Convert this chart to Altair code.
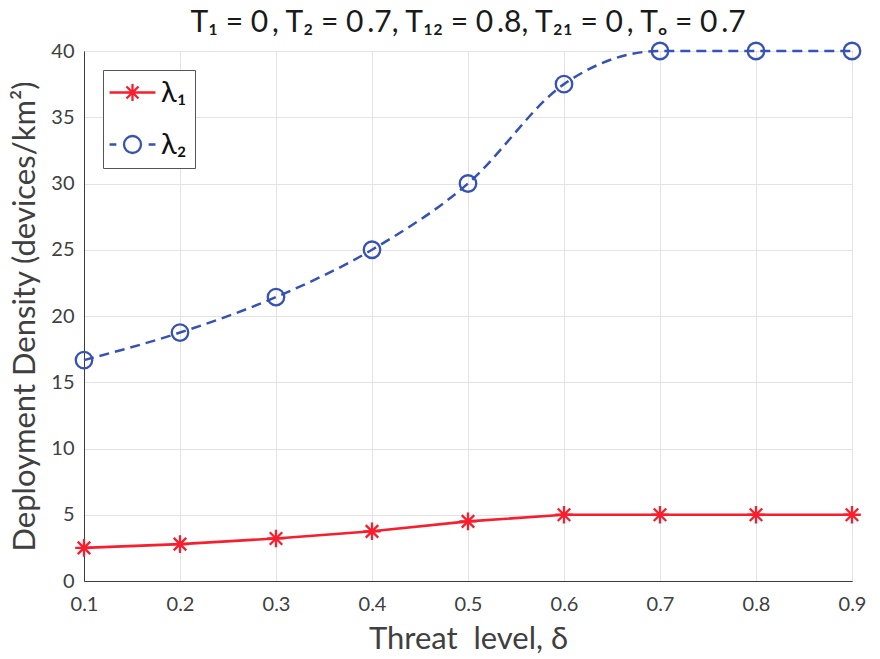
import altair as alt
import pandas as pd

# Threat level on the x axis
threat = [0.1, 0.2, 0.3, 0.4, 0.5, 0.6, 0.7, 0.8, 0.9]
# Deployment densities (devices/km^2) for the two tiers
lambda1 = [2.50, 2.78, 3.21, 3.75, 4.50, 5.0, 5.0, 5.0, 5.0]
lambda2 = [16.67, 18.75, 21.43, 25.0, 30.0, 37.5, 40.0, 40.0, 40.0]

series_names = ["λ₁", "λ₂"]
series_colors = ["#f71e2d", "#3652b4"]
x_ticks = [0.1, 0.2, 0.3, 0.4, 0.5, 0.6, 0.7, 0.8, 0.9]
y_ticks = [0, 5, 10, 15, 20, 25, 30, 35, 40]

FONT = "Lato"
INK = "#404040"

df = pd.DataFrame({
    "threat": threat * 2,
    "density": lambda1 + lambda2,
    "series": [series_names[0]] * len(threat) + [series_names[1]] * len(threat),
})

# marker paths: 8-spoke asterisk and open circle
ASTERISK = "M0,-1L0,1M-1,0L1,0M-0.71,-0.71L0.71,0.71M-0.71,0.71L0.71,-0.71"
CIRCLE = "M-1,0A1,1 0 1,0 1,0A1,1 0 1,0 -1,0Z"
# legend glyphs: marker with its line style drawn through it
LEG_RED = "M-2.7,0L2.7,0" + ASTERISK
LEG_BLUE = "M-2.7,0L-1.9,0M1.9,0L2.7,0" + CIRCLE

x_enc = alt.X(
    "threat:Q",
    scale=alt.Scale(domain=[0.1, 0.9], nice=False, zero=False),
    axis=alt.Axis(
        values=x_ticks, format=".1f", title="Threat\u00a0 level, δ",
        titleFontSize=31, titlePadding=10, labelPadding=13, labelFlush=False,
    ),
)
y_enc = alt.Y(
    "density:Q",
    scale=alt.Scale(domain=[0, 40], nice=False),
    axis=alt.Axis(
        values=y_ticks, title="Deployment Density (devices/km²)",
        titleFontSize=31, titlePadding=9, labelPadding=10, labelFlush=False,
    ),
)

base = alt.Chart(df).encode(x=x_enc, y=y_enc)

red = base.transform_filter(alt.datum.series == series_names[0])
blue = base.transform_filter(alt.datum.series == series_names[1])

red_line = red.mark_line(color=series_colors[0], strokeWidth=2.6)
red_pts = red.mark_point(
    shape=ASTERISK, size=310, color=series_colors[0], strokeWidth=2.3, filled=False, opacity=1
)
blue_line = blue.mark_line(
    color=series_colors[1], strokeWidth=2.5, strokeDash=[10, 6], interpolate="monotone"
)
blue_pts = blue.mark_point(
    shape="circle", size=272, color=series_colors[1], strokeWidth=2.3, filled=False, opacity=1
)

legend_layer = base.mark_point(opacity=0, filled=False).encode(
    color=alt.Color(
        "series:N",
        scale=alt.Scale(domain=series_names, range=series_colors),
        legend=alt.Legend(
            title=None, orient="none", legendX=19, legendY=19,
            symbolSize=289, symbolStrokeWidth=2.3, symbolOpacity=1,
            symbolFillColor="transparent", symbolOffset=7,
            labelFontSize=29, labelFont=FONT, labelColor="#111111", labelOffset=14,
            padding=8, rowPadding=22, strokeColor="#555555", fillColor="white",
        ),
    ),
    shape=alt.Shape(
        "series:N",
        scale=alt.Scale(domain=series_names, range=[LEG_RED, LEG_BLUE]),
    ),
)

chart = (
    alt.layer(red_line, blue_line, red_pts, blue_pts, legend_layer)
    .properties(
        width=768, height=530,
        title=alt.TitleParams(
            "T₁ = 0\u2009, T₂ = 0\u2009.7, T₁₂ = 0\u2009.8, T₂₁ = 0\u2009, Tₒ = 0\u2009.7",
            fontSize=30, font=FONT, fontWeight="normal", color="#1a1a1a", offset=0,
        ),
        autosize=alt.AutoSizeParams(type="none"),
        padding={"left": 84, "top": 51, "right": 28, "bottom": 78},
    )
    .configure_view(stroke="#3c3c3c", strokeWidth=1)
    .configure_axis(
        labelFont=FONT, titleFont=FONT, labelFontSize=20, labelColor=INK,
        titleColor=INK, titleFontWeight="normal", domainColor="#3c3c3c",
        gridColor="#e3e3e3", grid=True, ticks=False,
    )
)

chart.save("out.html", embed_options={"renderer": "svg", "actions": False})
